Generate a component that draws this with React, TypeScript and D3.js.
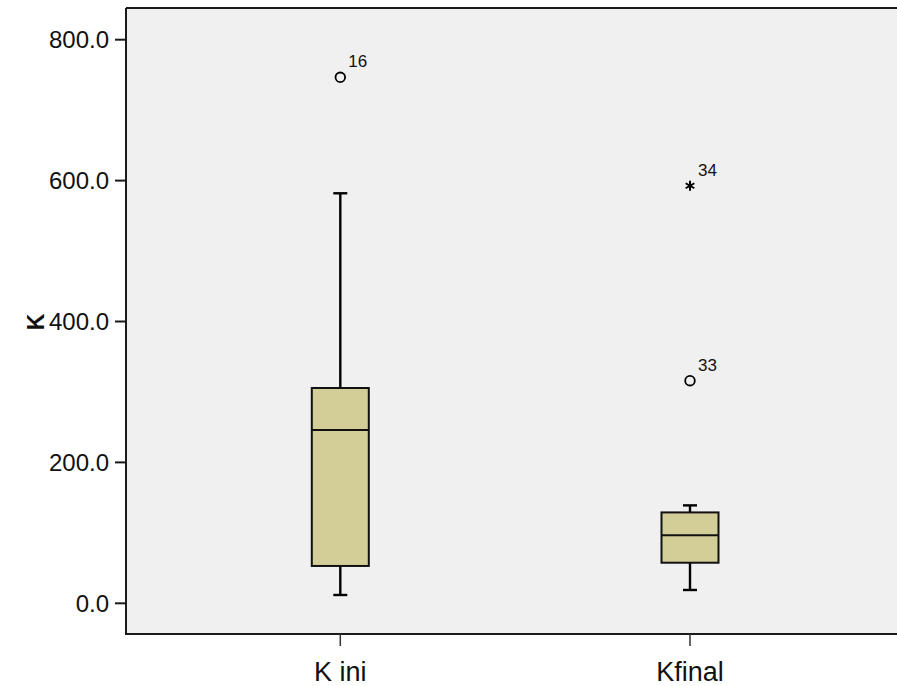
import React from "react";
import * as d3 from "d3";

const categories = ["K ini", "Kfinal"];
const q1 = [53, 57.6];
const median = [246, 96.5];
const q3 = [305.6, 129];
const whiskerLow = [11.8, 18.9];
const whiskerHigh = [582, 139];
const outliers = [
  { cat: "K ini", value: 746.6, label: "16", type: "circle" },
  { cat: "Kfinal", value: 316, label: "33", type: "circle" },
  { cat: "Kfinal", value: 592.7, label: "34", type: "star" },
];
const yTicks = [0, 200, 400, 600, 800];

const W = 897;
const H = 686;
const left = 126;
const top = 8;
const right = 897;
const bottom = 634;

export default function App() {
  const y = d3.scaleLinear().domain([0, 800]).range([603.3, 39.7]);
  const x = d3.scalePoint<string>().domain(categories).range([340.3, 690]);
  const boxW = 57;
  const capW = 14;
  const font = "'Liberation Sans', Arial, sans-serif";
  const starPath = d3.symbol().type(d3.symbolAsterisk).size(70)();

  return (
    <svg width={W} height={H} style={{ position: "absolute", left: 0, top: 0 }}>
      <rect x={0} y={0} width={W} height={H} fill="#ffffff" />
      <rect x={left} y={top} width={right - left} height={bottom - top} fill="#F0F0F0" />
      <line x1={left} y1={top} x2={right} y2={top} stroke="#1a1a1a" strokeWidth={2} />
      <line x1={left} y1={top} x2={left} y2={bottom} stroke="#1a1a1a" strokeWidth={2} />
      <line x1={left - 1} y1={bottom} x2={right} y2={bottom} stroke="#1a1a1a" strokeWidth={2} />
      {yTicks.map((t) => (
        <g key={t}>
          <line x1={115} x2={left} y1={y(t)} y2={y(t)} stroke="#1a1a1a" strokeWidth={2} />
          <text x={109} y={y(t)} dy="0.36em" textAnchor="end" fontFamily={font} fontSize={24} fill="#111">
            {d3.format(".1f")(t)}
          </text>
        </g>
      ))}
      <text
        transform={`translate(44,322) rotate(-90)`}
        textAnchor="middle"
        fontFamily={font}
        fontSize={23}
        fontWeight="bold"
        fill="#111"
      >
        K
      </text>
      {categories.map((c, i) => {
        const cx = x(c) as number;
        return (
          <g key={c}>
            <line x1={cx} x2={cx} y1={bottom} y2={646} stroke="#333" strokeWidth={1.5} />
            <text x={cx} y={681} textAnchor="middle" fontFamily={font} fontSize={27} fill="#111">
              {c}
            </text>
            <line x1={cx} x2={cx} y1={y(whiskerHigh[i])} y2={y(q3[i])} stroke="#000" strokeWidth={2.4} />
            <line x1={cx} x2={cx} y1={y(q1[i])} y2={y(whiskerLow[i])} stroke="#000" strokeWidth={2.4} />
            <line x1={cx - capW / 2} x2={cx + capW / 2} y1={y(whiskerHigh[i])} y2={y(whiskerHigh[i])} stroke="#000" strokeWidth={2.4} />
            <line x1={cx - capW / 2} x2={cx + capW / 2} y1={y(whiskerLow[i])} y2={y(whiskerLow[i])} stroke="#000" strokeWidth={2.4} />
            <rect
              x={cx - boxW / 2}
              y={y(q3[i])}
              width={boxW}
              height={y(q1[i]) - y(q3[i])}
              fill="#D3CE98"
              stroke="#111"
              strokeWidth={2}
            />
            <line x1={cx - boxW / 2} x2={cx + boxW / 2} y1={y(median[i])} y2={y(median[i])} stroke="#111" strokeWidth={2} />
          </g>
        );
      })}
      {outliers.map((o) => {
        const cx = x(o.cat) as number;
        const cy = y(o.value);
        return (
          <g key={o.label}>
            {o.type === "circle" ? (
              <circle cx={cx} cy={cy} r={4.8} fill="none" stroke="#000" strokeWidth={1.8} />
            ) : (
              <path d={starPath || ""} transform={`translate(${cx},${cy})`} fill="none" stroke="#000" strokeWidth={2} />
            )}
            <text x={cx + 8} y={cy - 10} fontFamily={font} fontSize={17} fill="#111">
              {o.label}
            </text>
          </g>
        );
      })}
    </svg>
  );
}
